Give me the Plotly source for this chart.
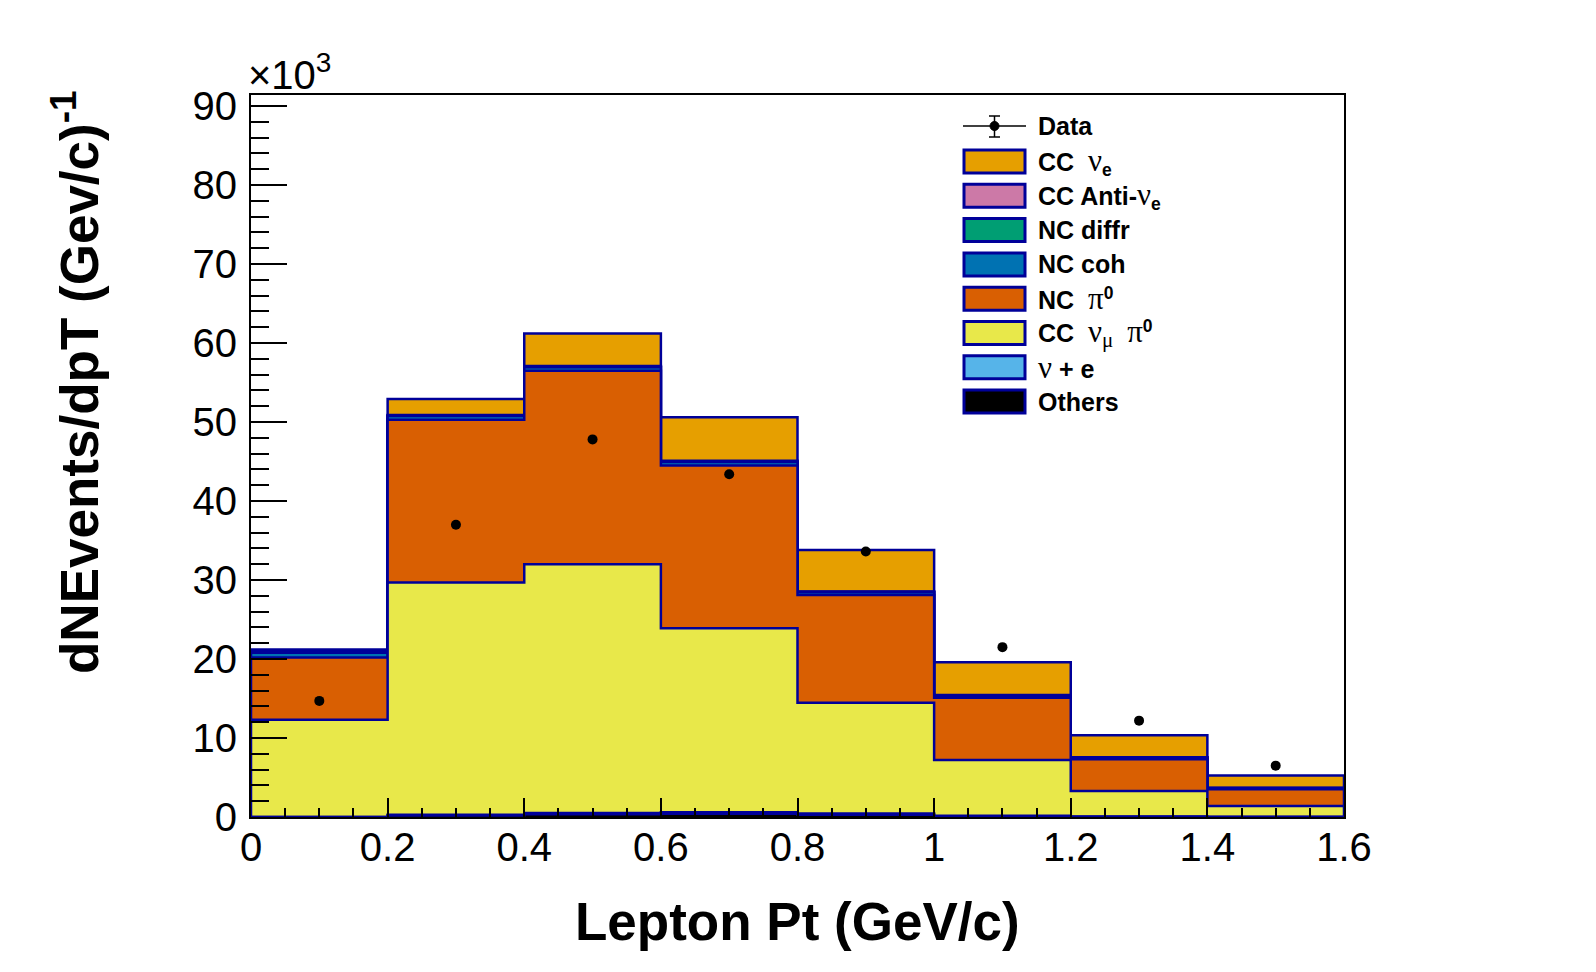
import numpy as np
import plotly.graph_objects as go

# --- binning (Lepton Pt, GeV/c) ---
bin_lo = [0.0, 0.2, 0.4, 0.6, 0.8, 1.0, 1.2, 1.4]
bin_width = 0.2

# --- MC components, dN/dpT in units of 10^3, stacked bottom -> top ---
others      = [0.00, 0.20, 0.35, 0.40, 0.30, 0.10, 0.03, 0.01]
nu_e_scat   = [0.00, 0.10, 0.15, 0.20, 0.15, 0.05, 0.02, 0.01]
cc_numu_pi0 = [12.30, 29.40, 31.50, 23.30, 14.00, 7.05, 3.25, 1.38]
nc_pi0      = [7.90, 20.60, 24.50, 20.60, 13.65, 7.90, 4.00, 2.10]
nc_coh      = [0.60, 0.45, 0.45, 0.45, 0.35, 0.25, 0.20, 0.15]
nc_diffr    = [0.05, 0.05, 0.05, 0.05, 0.05, 0.05, 0.03, 0.03]
cc_anti_nue = [0.15, 0.10, 0.10, 0.10, 0.05, 0.05, 0.02, 0.02]
cc_nue      = [0.20, 2.00, 4.10, 5.50, 5.25, 4.15, 2.80, 1.55]

# --- data points ---
data_y = [14.7, 37.0, 47.8, 43.4, 33.6, 21.5, 12.2, 6.5]

stack = [others, nu_e_scat, cc_numu_pi0, nc_pi0, nc_coh, nc_diffr, cc_anti_nue, cc_nue]
stack_colors = ['#000000', '#56B4E9', '#E8E84A', '#D95F02', '#0072B2', '#009E73', '#CC79A7', '#E69F00']
OUTLINE = '#000099'


def g(ch, size=31):
    # greek letter in a symbol-like serif face
    return ('<span style="font-family:\'Liberation Serif\';font-weight:normal;'
            'font-size:%dpx">' % size + ch + '</span>')


leg_labels = [
    'CC&#160;&#160;' + g('ν') + '<sub>e</sub>',
    'CC Anti-' + g('ν') + '<sub>e</sub>',
    'NC diffr',
    'NC coh',
    'NC&#160;&#160;' + g('π') + '<sup>0</sup>',
    'CC&#160;&#160;' + g('ν') + '<sub>' + g('μ', 21) + '</sub>&#160;&#160;' + g('π') + '<sup>0</sup>',
    g('ν') + ' + e',
    'Others',
]

edges = list(bin_lo) + [bin_lo[-1] + bin_width]
centers = [b + bin_width / 2 for b in bin_lo]
cum = np.cumsum(np.array(stack), axis=0)

fig = go.Figure()

# draw cumulative histograms from the top one down (ROOT THStack style)
for i in reversed(range(len(stack))):
    c = list(cum[i])
    xs = [edges[0]] + edges[:-1] + [edges[-1], edges[-1]]
    ys = [0] + c + [c[-1], 0]
    fig.add_trace(go.Scatter(
        x=xs, y=ys, mode='lines',
        line=dict(shape='hv', color=OUTLINE, width=2.5),
        fill='tozeroy', fillcolor=stack_colors[i],
        showlegend=False, hoverinfo='skip'))

fig.add_trace(go.Scatter(
    x=centers, y=data_y, mode='markers',
    marker=dict(color='black', size=10),
    showlegend=False))

# --- plot geometry ---
W, H = 1596, 972
L, R, T, B = 251, 252, 95, 155
pw, ph = W - L - R, H - T - B

def px(x):
    return (x - L) / pw

def py(y):
    return 1 - (y - T) / ph

shapes = []
annotations = []
legfont = dict(family='Liberation Sans', size=25, color='black', weight='bold')

# data legend entry
y0 = 126
shapes.append(dict(type='line', xref='paper', yref='paper', x0=px(963), x1=px(1026),
                   y0=py(y0), y1=py(y0), line=dict(color='black', width=1.5)))
shapes.append(dict(type='line', xref='paper', yref='paper', x0=px(994.5), x1=px(994.5),
                   y0=py(116), y1=py(137), line=dict(color='black', width=1.5)))
for yy in (116, 137):
    shapes.append(dict(type='line', xref='paper', yref='paper', x0=px(989), x1=px(1000),
                       y0=py(yy), y1=py(yy), line=dict(color='black', width=1.5)))
shapes.append(dict(type='circle', xref='paper', yref='paper', x0=px(990), x1=px(999),
                   y0=py(121.5), y1=py(130.5), fillcolor='black', line=dict(color='black', width=1)))
annotations.append(dict(x=px(1036), y=py(y0), xref='paper', yref='paper', text='Data',
                        showarrow=False, xanchor='left', yanchor='middle', font=legfont))

leg_colors = stack_colors[::-1]
for k, lab in enumerate(leg_labels):
    yc = 161.5 + k * 34.3
    shapes.append(dict(type='rect', xref='paper', yref='paper',
                       x0=px(964), x1=px(1025), y0=py(yc - 11.5), y1=py(yc + 11.5),
                       fillcolor=leg_colors[k], line=dict(color=OUTLINE, width=3)))
    annotations.append(dict(x=px(1036), y=py(yc), xref='paper', yref='paper', text=lab,
                            showarrow=False, xanchor='left', yanchor='middle', font=legfont))

# axis titles and exponent
annotations.append(dict(x=0.5, y=py(921), xref='paper', yref='paper',
                        text='Lepton Pt (GeV/c)', showarrow=False,
                        xanchor='center', yanchor='middle',
                        font=dict(family='Liberation Sans', size=53, color='black', weight='bold')))
annotations.append(dict(x=px(75), y=py(88), xref='paper', yref='paper',
                        text='dNEvents/dpT (Gev/c)<sup>-1</sup>', showarrow=False,
                        textangle=-90, xanchor='center', yanchor='top',
                        font=dict(family='Liberation Sans', size=53, color='black', weight='bold')))
annotations.append(dict(x=px(246), y=py(99), xref='paper', yref='paper',
                        text='×10<sup>3</sup>', showarrow=False,
                        xanchor='left', yanchor='bottom',
                        font=dict(family='Liberation Sans', size=40, color='black')))

tickfont = dict(family='Liberation Sans', size=40, color='black')

fig.update_layout(
    width=W, height=H, autosize=False,
    margin=dict(l=L, r=R, t=T, b=B, pad=0),
    paper_bgcolor='white', plot_bgcolor='white',
    shapes=shapes, annotations=annotations,
    showlegend=False,
    xaxis=dict(range=[0, 1.6], tick0=0, dtick=0.2, ticks='inside', ticklen=19,
               tickwidth=1.5, tickcolor='black',
               minor=dict(dtick=0.05, ticks='inside', ticklen=9, tickwidth=1.5, tickcolor='black'),
               showline=True, linecolor='black', linewidth=2, mirror=True,
               showgrid=False, zeroline=False, tickfont=tickfont, ticklabelstandoff=-6),
    yaxis=dict(range=[0, 91.4], tick0=0, dtick=10, ticks='inside', ticklen=36,
               tickwidth=1.5, tickcolor='black',
               minor=dict(dtick=2, ticks='inside', ticklen=18, tickwidth=1.5, tickcolor='black'),
               showline=True, linecolor='black', linewidth=2, mirror=True,
               showgrid=False, zeroline=False, tickfont=tickfont, ticklabelstandoff=4),
)

fig.write_html("out.html", config={'displayModeBar': False},
               post_script="document.body.style.margin='0';")
